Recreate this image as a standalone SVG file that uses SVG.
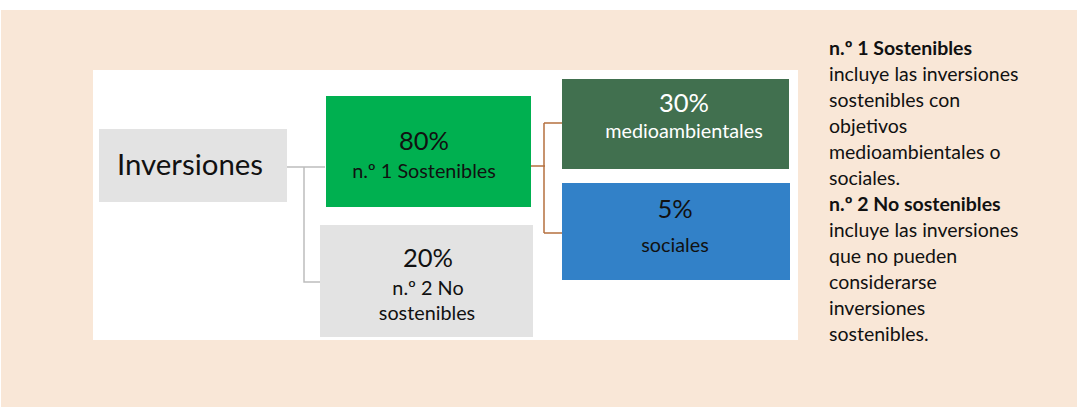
<svg xmlns="http://www.w3.org/2000/svg" width="1077" height="407" viewBox="0 0 1077 407">
<style>
text{font-family:Lato,"Liberation Sans",sans-serif;fill:#111}
.c{text-anchor:middle}
.big{font-size:25.5px}
.med{font-size:19.8px}
.note{font-size:19.5px}
.b{font-weight:bold}
.w{fill:#fff}
.gl{fill:none;stroke:#bdbdbd;stroke-width:1.5}
.bl{fill:none;stroke:#b5703f;stroke-width:1.5}
</style>
<rect x="1" y="10" width="1076" height="397" fill="#f9e7d7"/>
<rect x="93" y="70" width="705" height="270" fill="#fff"/>
<g id="connectors">
<path class="gl" d="M287 167H325M304 167V282H320"/>
<path class="bl" d="M531 166H545M544 123V233M544 123H562M544 233H562"/>
</g>
<g id="inversiones">
<rect x="99" y="129" width="188" height="73" fill="#e3e3e3"/>
<text x="190" y="175" font-size="29.4" class="c">Inversiones</text>
</g>
<g id="sostenibles">
<rect x="326" y="96" width="205" height="111" fill="#00b050"/>
<text x="424" y="150" class="c big">80%</text>
<text x="424" y="178" class="c med">n.º 1 Sostenibles</text>
</g>
<g id="no-sostenibles">
<rect x="320" y="225" width="213" height="112" fill="#e3e3e3"/>
<text x="428" y="267" class="c big">20%</text>
<text x="428" y="295" class="c med">n.º 2 No</text>
<text x="427" y="320" class="c med">sostenibles</text>
</g>
<g id="medioambientales">
<rect x="562" y="79" width="227" height="90" fill="#41704f"/>
<text x="684" y="112" class="c big w">30%</text>
<text x="684" y="138" class="c med w">medioambientales</text>
</g>
<g id="sociales">
<rect x="562" y="183" width="228" height="97" fill="#3281c8"/>
<text x="675" y="218" class="c big">5%</text>
<text x="675" y="252" class="c med">sociales</text>
</g>
<g id="legend" class="note">
<text x="829" y="55" class="b">n.º 1 Sostenibles</text>
<text x="829" y="81">incluye las inversiones</text>
<text x="829" y="107">sostenibles con</text>
<text x="829" y="133">objetivos</text>
<text x="829" y="159">medioambientales o</text>
<text x="829" y="185">sociales.</text>
<text x="829" y="211" class="b">n.º 2 No sostenibles</text>
<text x="829" y="237">incluye las inversiones</text>
<text x="829" y="263">que no pueden</text>
<text x="829" y="289">considerarse</text>
<text x="829" y="315">inversiones</text>
<text x="829" y="341">sostenibles.</text>
</g>
</svg>
